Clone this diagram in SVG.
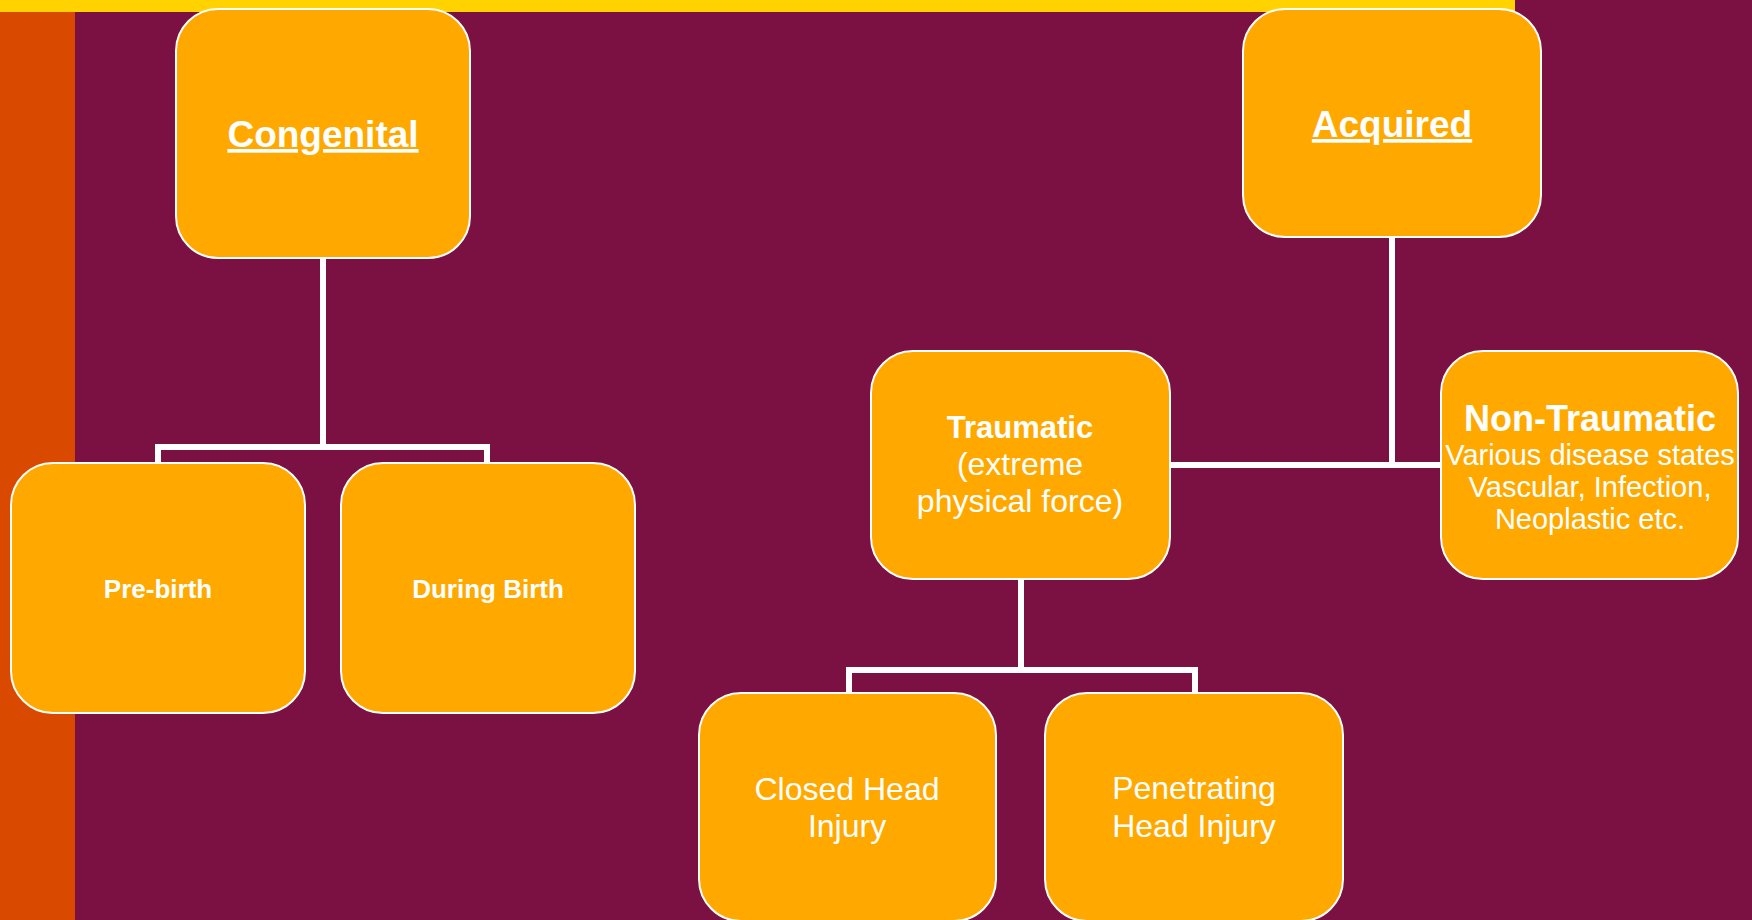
<svg xmlns="http://www.w3.org/2000/svg" width="1752" height="920" viewBox="0 0 1752 920">
<style>
.box{fill:#FFA900;stroke:#FFFFFF;stroke-width:2}
.conn{fill:none;stroke:#FFFFFF;stroke-width:6;stroke-linejoin:miter}
text{font-family:"Liberation Sans",Arial,sans-serif;fill:#FFFFFF;text-anchor:middle}
.b{font-weight:bold}
.u{text-decoration:underline}
</style>
<rect x="0" y="0" width="1752" height="920" fill="#7B1042"/>
<rect x="0" y="0" width="75" height="920" fill="#D94A00"/>
<rect x="0" y="0" width="1515" height="12" fill="#FFD200"/>
<g id="connectors">
<path class="conn" d="M323 258 V447 M158 463 V447 H487 V463"/>
<path class="conn" d="M1392 237 V468 M1170 465 H1441"/>
<path class="conn" d="M1021 579 V670 M849 693 V670 H1195 V693"/>
</g>
<g id="congenital">
<rect class="box" x="176" y="9" width="294" height="249" rx="42" ry="42"/>
<text class="b u" x="323" y="147" font-size="37">Congenital</text>
</g>
<g id="acquired">
<rect class="box" x="1243" y="9" width="298" height="228" rx="42" ry="42"/>
<text class="b u" x="1392" y="137" font-size="37">Acquired</text>
</g>
<g id="prebirth">
<rect class="box" x="11" y="463" width="294" height="250" rx="42" ry="42"/>
<text class="b" x="158" y="598" font-size="26">Pre-birth</text>
</g>
<g id="duringbirth">
<rect class="box" x="341" y="463" width="294" height="250" rx="42" ry="42"/>
<text class="b" x="488" y="598" font-size="26">During Birth</text>
</g>
<g id="traumatic">
<rect class="box" x="871" y="351" width="299" height="228" rx="42" ry="42"/>
<text class="b" x="1020" y="438" font-size="31">Traumatic</text>
<text x="1020" y="475" font-size="32">(extreme</text>
<text x="1020" y="512" font-size="32">physical force)</text>
</g>
<g id="nontraumatic">
<rect class="box" x="1441" y="351" width="297" height="228" rx="42" ry="42"/>
<text class="b" x="1590" y="431" font-size="36">Non-Traumatic</text>
<text x="1590" y="465" font-size="29">Various disease states</text>
<text x="1590" y="497" font-size="29">Vascular, Infection,</text>
<text x="1590" y="529" font-size="29">Neoplastic etc.</text>
</g>
<g id="closedhead">
<rect class="box" x="699" y="693" width="297" height="228" rx="42" ry="42"/>
<text x="847" y="800" font-size="32">Closed Head</text>
<text x="847" y="837" font-size="32">Injury</text>
</g>
<g id="penetrating">
<rect class="box" x="1045" y="693" width="298" height="228" rx="42" ry="42"/>
<text x="1194" y="799" font-size="32">Penetrating</text>
<text x="1194" y="837" font-size="32">Head Injury</text>
</g>
</svg>
